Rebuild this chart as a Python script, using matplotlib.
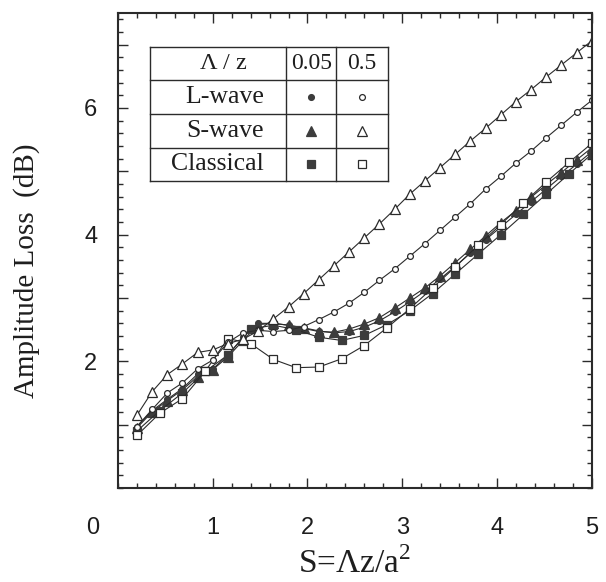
import matplotlib
matplotlib.use("Agg")
import matplotlib.pyplot as plt
from matplotlib.ticker import MultipleLocator, FixedLocator, FixedFormatter

# =============================
# DATA
# =============================

x_fine = [0.20, 0.36, 0.52, 0.68, 0.84, 1.00, 1.16, 1.32, 1.48, 1.64, 1.80,
          1.96, 2.12, 2.28, 2.44, 2.60, 2.76, 2.92, 3.08, 3.24, 3.40, 3.56,
          3.72, 3.88, 4.04, 4.20, 4.36, 4.52, 4.68, 4.84, 5.00]

x_classical = [0.20, 0.44, 0.68, 0.92, 1.16, 1.40, 1.64, 1.88, 2.12, 2.36, 2.60,
               2.84, 3.08, 3.32, 3.56, 3.80, 4.04, 4.28, 4.52, 4.76, 5.00]

l_wave_005 = [0.97, 1.22, 1.40, 1.57, 1.80, 1.88, 2.10, 2.38, 2.60, 2.60, 2.57,
              2.53, 2.48, 2.45, 2.47, 2.54, 2.64, 2.78, 2.94, 3.11, 3.30, 3.50,
              3.71, 3.92, 4.12, 4.32, 4.52, 4.72, 4.92, 5.11, 5.31]

l_wave_05 = [0.97, 1.24, 1.50, 1.66, 1.88, 2.02, 2.30, 2.45, 2.49, 2.47, 2.49,
             2.55, 2.66, 2.78, 2.92, 3.09, 3.28, 3.46, 3.66, 3.86, 4.07, 4.28,
             4.49, 4.72, 4.92, 5.13, 5.32, 5.53, 5.73, 5.93, 6.12]

s_wave_005 = [0.95, 1.20, 1.38, 1.55, 1.76, 1.87, 2.07, 2.33, 2.58, 2.60, 2.57,
              2.52, 2.47, 2.46, 2.51, 2.59, 2.69, 2.84, 3.00, 3.16, 3.35, 3.56,
              3.77, 3.98, 4.19, 4.38, 4.59, 4.79, 4.98, 5.18, 5.37]

s_wave_05 = [1.15, 1.52, 1.79, 1.96, 2.14, 2.18, 2.28, 2.35, 2.48, 2.67, 2.86,
             3.07, 3.29, 3.51, 3.73, 3.95, 4.17, 4.40, 4.64, 4.85, 5.06, 5.27,
             5.48, 5.68, 5.89, 6.10, 6.29, 6.49, 6.68, 6.87, 7.06]

classical_005 = [0.90, 1.22, 1.50, 1.84, 2.10, 2.51, 2.57, 2.50, 2.38, 2.33, 2.41,
                 2.58, 2.80, 3.07, 3.38, 3.69, 4.00, 4.32, 4.64, 4.96, 5.27]

classical_05 = [0.83, 1.18, 1.41, 1.84, 2.36, 2.28, 2.03, 1.90, 1.91, 2.04, 2.25,
                2.53, 2.83, 3.16, 3.49, 3.83, 4.16, 4.50, 4.83, 5.14, 5.44]

row_labels = ["L-wave", "S-wave", "Classical"]
col_labels = ["0.05", "0.5"]

# =============================
# STYLE
# =============================

INK = "#2b2b2b"
FILL = "#3c3c3c"
TXT = "#1e1e1e"
SERIF = ["Liberation Serif", "DejaVu Serif"]
NARROW = ["Liberation Sans Narrow", "Liberation Sans", "DejaVu Sans"]

# marker style per (row, column) of the legend table
STYLES = {
    ("L-wave", "0.05"): dict(marker="o", ms=4.2, mfc=FILL, mec=FILL),
    ("L-wave", "0.5"): dict(marker="o", ms=4.2, mfc="white", mec=INK),
    ("S-wave", "0.05"): dict(marker="^", ms=7.8, mfc=FILL, mec=FILL),
    ("S-wave", "0.5"): dict(marker="^", ms=7.8, mfc="white", mec=INK),
    ("Classical", "0.05"): dict(marker="s", ms=5.2, mfc=FILL, mec=FILL),
    ("Classical", "0.5"): dict(marker="s", ms=5.2, mfc="white", mec=INK),
}

# =============================
# FIGURE
# =============================

fig = plt.figure(figsize=(6.06, 5.82), dpi=100)
fig.patch.set_facecolor("white")
ax = fig.add_axes([118 / 606, 1 - 488 / 582, 473.7 / 606, 475 / 582])

series = [
    (x_fine, s_wave_005, ("S-wave", "0.05")),
    (x_fine, l_wave_005, ("L-wave", "0.05")),
    (x_classical, classical_005, ("Classical", "0.05")),
    (x_classical, classical_05, ("Classical", "0.5")),
    (x_fine, l_wave_05, ("L-wave", "0.5")),
    (x_fine, s_wave_05, ("S-wave", "0.5")),
]

for xs, ys, key in series:
    ax.plot(xs, ys, color=INK, lw=0.8, mew=0.9, **STYLES[key])

ax.set_xlim(0, 5)
ax.set_ylim(0, 7.5)

# ticks
ax.xaxis.set_major_locator(FixedLocator([1, 2, 3, 4, 5]))
ax.xaxis.set_minor_locator(MultipleLocator(0.2))
ax.yaxis.set_major_locator(FixedLocator([1, 2, 3, 4, 5, 6, 7]))
ax.yaxis.set_major_formatter(FixedFormatter(["", "2", "", "4", "", "6", ""]))
ax.yaxis.set_minor_locator(MultipleLocator(0.2))

ax.tick_params(which="both", direction="in", top=True, right=True,
               color=INK, width=1.0)
ax.tick_params(which="major", length=7)
ax.tick_params(which="minor", length=3.5)
ax.tick_params(axis="x", which="major", pad=21)
ax.tick_params(axis="y", which="major", pad=15)

for lab in ax.get_xticklabels() + ax.get_yticklabels():
    lab.set_family(NARROW)
    lab.set_fontsize(17)
    lab.set_color(TXT)

# origin label sits to the left of the corner
ax.annotate("0", xy=(0, 0), xycoords="data", xytext=(-18.5, -21),
            textcoords="offset points", ha="center", va="top",
            family=NARROW, fontsize=17, color=TXT)

for spine in ax.spines.values():
    spine.set_linewidth(1.5)
    spine.set_color(INK)

ax.set_xlabel(r"S=$\mathregular{\Lambda}$z/a$^{\mathregular{2}}$", family=SERIF,
              fontsize=24, color=TXT)
ax.xaxis.set_label_coords(0.5, -0.125)
ax.set_ylabel("Amplitude Loss  (dB)", family=SERIF, fontsize=21, color=TXT)
ax.yaxis.set_label_coords(-0.165, 0.457)

# =============================
# LEGEND TABLE
# =============================

col_edges = [0.0676, 0.3547, 0.4608, 0.5691]
row_edges = [0.929, 0.8583, 0.7874, 0.7164, 0.6469]

for xe in col_edges:
    ax.plot([xe, xe], [row_edges[-1], row_edges[0]], transform=ax.transAxes,
            color=INK, lw=1.0, clip_on=False, zorder=5)
for ye in row_edges:
    ax.plot([col_edges[0], col_edges[-1]], [ye, ye], transform=ax.transAxes,
            color=INK, lw=1.0, clip_on=False, zorder=5)

row_mid = [(row_edges[i] + row_edges[i + 1]) / 2 for i in range(4)]
col_mid = [(col_edges[i] + col_edges[i + 1]) / 2 for i in range(3)]

ax.text(0.222, row_mid[0], r"$\mathregular{\Lambda}$ / z", transform=ax.transAxes,
        ha="center", va="center", family=SERIF, fontsize=17.5, color=TXT)
for j, c in enumerate(col_labels):
    ax.text(col_mid[j + 1], row_mid[0], c, transform=ax.transAxes,
            ha="center", va="center", family=SERIF, fontsize=17, color=TXT)

for i, r in enumerate(row_labels):
    ax.text(0.308, row_mid[i + 1], r, transform=ax.transAxes,
            ha="right", va="center", family=SERIF, fontsize=18.5, color=TXT)
    for j, c in enumerate(col_labels):
        st = dict(STYLES[(r, c)])
        ax.plot([col_mid[j + 1]], [row_mid[i + 1]], transform=ax.transAxes,
                ls="none", mew=0.9, clip_on=False, zorder=6, **st)

fig.savefig("out.png", dpi=100)
